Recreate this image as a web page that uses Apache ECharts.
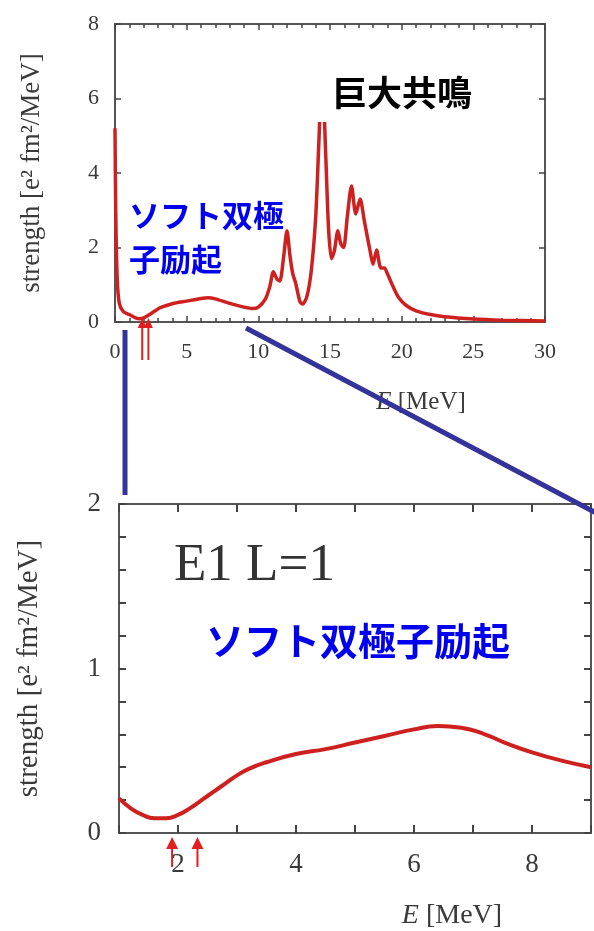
<!DOCTYPE html>
<html><head><meta charset="utf-8">
<script src="https://cdn.jsdelivr.net/npm/echarts@6/dist/echarts.min.js"></script>
<style>html,body{margin:0;padding:0;background:#fff}#c{width:594px;height:931px}</style>
</head><body><div id="c"></div>
<script>
// ---- data ----
const topE = [0, 0.05, 0.15, 0.3, 0.6, 1.0, 1.4, 1.7, 2.0, 2.4, 2.8, 3.2, 4.0, 5.0, 6.0, 6.5, 7.0, 8.0, 9.0, 9.6,
  10.0, 10.5, 10.8, 11.05, 11.3, 11.5, 11.75, 12.0, 12.2, 12.4, 12.6, 12.9, 13.1, 13.4, 13.7, 14.0, 14.2, 14.45,
  14.7, 14.9, 15.1, 15.3, 15.55, 15.75, 15.95, 16.2, 16.5, 16.8, 17.1, 17.4, 17.8, 18.0, 18.25, 18.55, 18.8,
  19.0, 19.4, 19.8, 20.3, 21.0, 22.0, 23.0, 25.0, 27.0, 30.0];
const topS = [5.2, 3.0, 1.2, 0.5, 0.27, 0.2, 0.12, 0.09, 0.11, 0.2, 0.3, 0.39, 0.49, 0.56, 0.63, 0.65, 0.62, 0.5, 0.4, 0.36,
  0.4, 0.62, 0.95, 1.35, 1.15, 1.1, 1.7, 2.45, 1.8, 1.3, 1.05, 0.55, 0.48, 0.7, 1.4, 2.8, 4.6, 6.8,
  4.5, 2.5, 1.7, 1.9, 2.45, 2.1, 2.0, 2.8, 3.65, 2.9, 3.3, 2.7, 1.9, 1.55, 1.93, 1.45, 1.45,
  1.3, 0.95, 0.65, 0.45, 0.3, 0.2, 0.14, 0.08, 0.05, 0.03];
const zoomE = [1.0, 1.2, 1.4, 1.6, 1.8, 2.0, 2.2, 2.4, 2.6, 2.8, 3.0, 3.2, 3.5, 4.0, 4.5, 5.0, 5.5, 6.0, 6.4, 6.8, 7.2, 7.6, 8.0, 8.5, 9.0];
const zoomS = [0.21, 0.15, 0.11, 0.09, 0.09, 0.11, 0.15, 0.2, 0.25, 0.3, 0.35, 0.39, 0.43, 0.48, 0.51, 0.55, 0.59, 0.63, 0.65, 0.64, 0.6, 0.54, 0.49, 0.44, 0.4];
const arrowE = [1.9, 2.33];
const topLabel = '巨大共鳴';
const softTop = ['ソフト双極', '子励起'];
const softBottom = 'ソフト双極子励起';
const panelLabel = 'E1 L=1';
const yName = 'strength [e² fm²/MeV]';
const xName = '{i|E} [MeV]';

// ---- styling ----
const serif = '"Liberation Serif","DejaVu Serif",serif';
const cjk = '"Noto Sans CJK JP","Noto Sans CJK SC",sans-serif';
const axisColor = '#555';
const labelColor = '#3a3a3a';
const red = '#cf2020';
const navy = '#333399';

const chart = echarts.init(document.getElementById('c'), null, {renderer: 'canvas'});

function axLine() { return {show: true, onZero: false, lineStyle: {color: axisColor, width: 2}}; }

const isInt = v => Math.abs(v - Math.round(v)) < 1e-6;

const option = {
  animation: false,
  backgroundColor: '#fff',
  grid: [
    {left: 115, top: 24, width: 430, height: 298},
    {left: 119, top: 504, width: 472, height: 330}
  ],
  xAxis: [
    {type: 'value', gridIndex: 0, position: 'bottom', min: 0, max: 30, interval: 5,
     axisLine: axLine(),
     axisTick: {inside: true, length: 6, lineStyle: {color: '#444', width: 1.5}},
     minorTick: {show: true, splitNumber: 5, length: 4, lineStyle: {color: '#444', width: 1.5}},
     splitLine: {show: false},
     axisLabel: {color: labelColor, fontFamily: serif, fontSize: 22, margin: 19},
     name: xName, nameLocation: 'middle', nameGap: 68,
     nameTextStyle: {color: labelColor, fontFamily: serif, fontSize: 25, padding: [0, 0, 0, 182],
       rich: {i: {fontStyle: 'italic', fontFamily: serif, fontSize: 25, color: labelColor}}}},
    {type: 'value', gridIndex: 0, position: 'top', min: 0, max: 30, interval: 5,
     axisLine: axLine(),
     axisTick: {inside: true, length: 6, lineStyle: {color: '#444', width: 1.5}},
     minorTick: {show: true, splitNumber: 5, length: 4, lineStyle: {color: '#444', width: 1.5}},
     splitLine: {show: false}, axisLabel: {show: false}},
    {type: 'value', gridIndex: 1, position: 'bottom', min: 1, max: 9, interval: 1,
     axisLine: axLine(),
     axisTick: {inside: true, length: 8, lineStyle: {color: '#444', width: 2}},
     splitLine: {show: false},
     axisLabel: {color: labelColor, fontFamily: serif, fontSize: 27, margin: 18,
       formatter: v => (isInt(v) && Math.round(v) % 2 === 0) ? String(Math.round(v)) : ''},
     name: xName, nameLocation: 'middle', nameGap: 69,
     nameTextStyle: {color: labelColor, fontFamily: serif, fontSize: 28, padding: [0, 0, 0, 194],
       rich: {i: {fontStyle: 'italic', fontFamily: serif, fontSize: 28, color: labelColor}}}},
    {type: 'value', gridIndex: 1, position: 'top', min: 1, max: 9, interval: 1,
     axisLine: axLine(),
     axisTick: {inside: true, length: 8, lineStyle: {color: '#444', width: 2}},
     splitLine: {show: false}, axisLabel: {show: false}}
  ],
  yAxis: [
    {type: 'value', gridIndex: 0, position: 'left', min: 0, max: 8, interval: 2,
     axisLine: axLine(),
     axisTick: {inside: true, length: 6, lineStyle: {color: '#444', width: 1.5}},
     splitLine: {show: false},
     axisLabel: {color: labelColor, fontFamily: serif, fontSize: 22, margin: 16},
     name: yName, nameLocation: 'middle', nameRotate: 90, nameGap: 70,
     nameTextStyle: {color: labelColor, fontFamily: serif, fontSize: 27}},
    {type: 'value', gridIndex: 0, position: 'right', min: 0, max: 8, interval: 2,
     axisLine: axLine(),
     axisTick: {inside: true, length: 6, lineStyle: {color: '#444', width: 1.5}},
     splitLine: {show: false}, axisLabel: {show: false}},
    {type: 'value', gridIndex: 1, position: 'left', min: 0, max: 2, interval: 0.2,
     axisLine: axLine(),
     axisTick: {inside: true, length: 7, lineStyle: {color: '#444', width: 2}},
     splitLine: {show: false},
     axisLabel: {color: labelColor, fontFamily: serif, fontSize: 27, margin: 18,
       formatter: v => isInt(v) ? String(Math.round(v)) : ''},
     name: yName, nameLocation: 'middle', nameRotate: 90, nameGap: 75,
     nameTextStyle: {color: labelColor, fontFamily: serif, fontSize: 29}},
    {type: 'value', gridIndex: 1, position: 'right', min: 0, max: 2, interval: 0.2,
     axisLine: axLine(),
     axisTick: {inside: true, length: 7, lineStyle: {color: '#444', width: 2}},
     splitLine: {show: false}, axisLabel: {show: false}}
  ],
  series: [
    {type: 'line', xAxisIndex: 0, yAxisIndex: 0, data: topE.map((e, i) => [e, topS[i]]),
     showSymbol: false, smooth: 0.25, z: 3,
     lineStyle: {color: red, width: 3.5}},
    {type: 'line', xAxisIndex: 2, yAxisIndex: 2, data: zoomE.map((e, i) => [e, zoomS[i]]),
     showSymbol: false, smooth: 0.5, z: 3,
     lineStyle: {color: red, width: 4}}
  ]
};
chart.setOption(option);

// ---- annotations ----
function arrow(x, tipY, tailY, w, h, lw) {
  return [
    {type: 'line', z: 50, shape: {x1: x, y1: tipY + h * 0.8, x2: x, y2: tailY}, style: {stroke: '#e02020', lineWidth: lw}},
    {type: 'polygon', z: 50, shape: {points: [[x, tipY], [x - w / 2, tipY + h], [x + w / 2, tipY + h]]}, style: {fill: '#e02020'}}
  ];
}
const els = [];
// white background behind giant-resonance label
els.push({type: 'rect', z: 40, shape: {x: 305, y: 58, width: 218, height: 64}, style: {fill: '#fff'}});
els.push({type: 'text', z: 41, style: {x: 402, y: 93, text: topLabel, font: 'bold 35px ' + cjk, fill: '#000', align: 'center', verticalAlign: 'middle', textAlign: 'center', textVerticalAlign: 'middle'}});
els.push({type: 'text', z: 41, style: {x: 129, y: 215, text: softTop[0], font: 'bold 31px ' + cjk, fill: '#0000ee', align: 'left', verticalAlign: 'middle', textAlign: 'left', textVerticalAlign: 'middle'}});
els.push({type: 'text', z: 41, style: {x: 129, y: 259, text: softTop[1], font: 'bold 31px ' + cjk, fill: '#0000ee', align: 'left', verticalAlign: 'middle', textAlign: 'left', textVerticalAlign: 'middle'}});
els.push({type: 'text', z: 41, style: {x: 206, y: 641, text: softBottom, font: 'bold 38px ' + cjk, fill: '#0000ee', align: 'left', verticalAlign: 'middle', textAlign: 'left', textVerticalAlign: 'middle'}});
els.push({type: 'text', z: 41, style: {x: 174, y: 566, text: panelLabel, font: '53px ' + serif, fill: '#333', align: 'left', verticalAlign: 'middle', textAlign: 'left', textVerticalAlign: 'middle'}});
// red arrows marking thresholds
arrowE.forEach(e => {
  const p0 = chart.convertToPixel({gridIndex: 0}, [e, 0]);
  arrow(p0[0], p0[1] - 4, p0[1] + 38, 9, 10, 2).forEach(g => els.push(g));
  const p1 = chart.convertToPixel({gridIndex: 1}, [e, 0]);
  arrow(p1[0], p1[1] + 4, p1[1] + 34, 12, 12, 2).forEach(g => els.push(g));
});
// zoom connector lines
els.push({type: 'line', z: 60, shape: {x1: 125, y1: 330, x2: 125, y2: 495}, style: {stroke: navy, lineWidth: 5}});
els.push({type: 'line', z: 60, shape: {x1: 246, y1: 328, x2: 596, y2: 513}, style: {stroke: navy, lineWidth: 5}});
chart.setOption({graphic: {elements: els}});
</script></body></html>
